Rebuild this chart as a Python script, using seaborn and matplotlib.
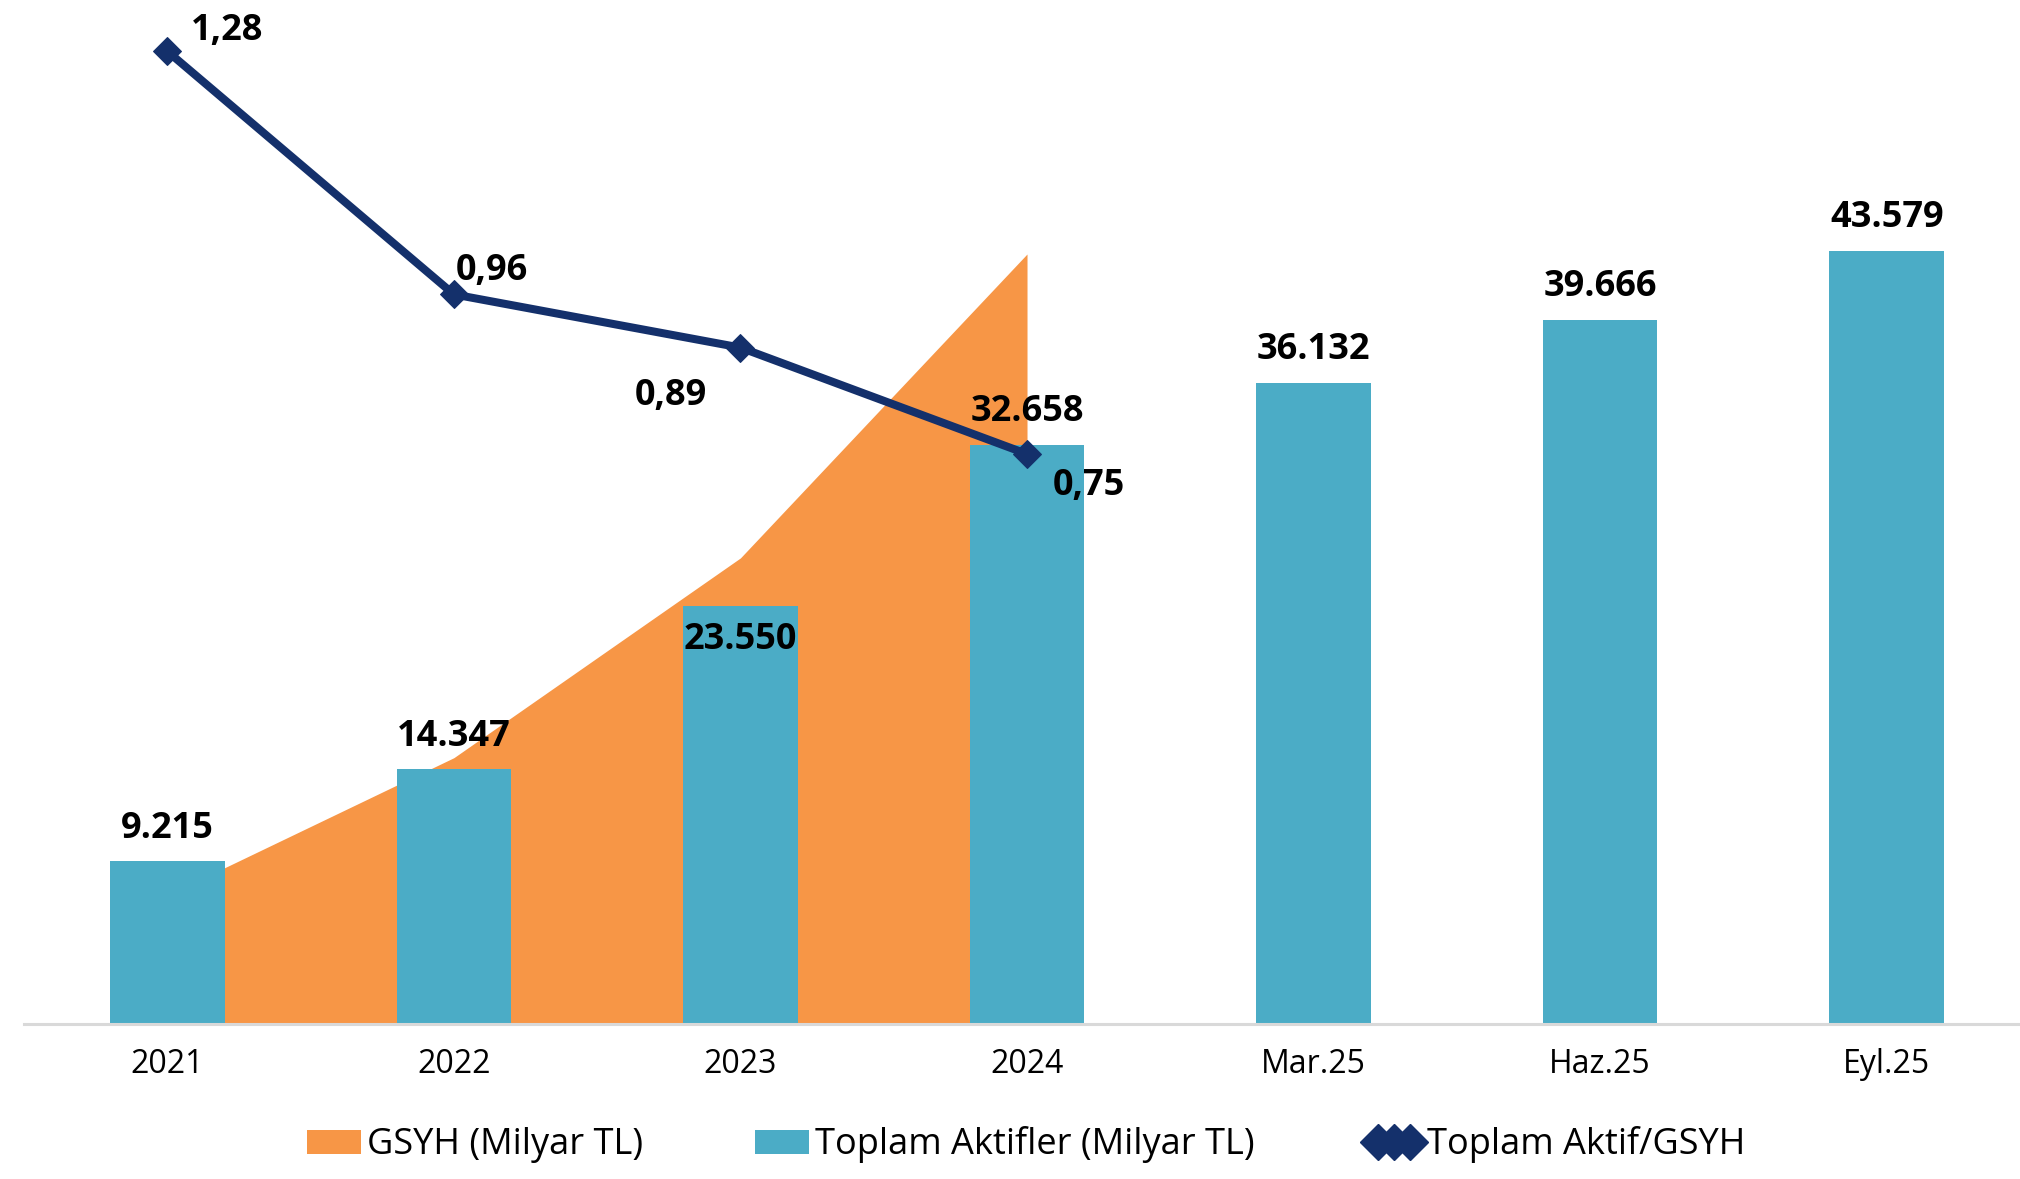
import matplotlib
matplotlib.use('Agg')
import matplotlib.pyplot as plt
import numpy as np
import pandas as pd
import seaborn as sns
from matplotlib.patches import Patch
from matplotlib.lines import Line2D

# Data
periods = ['2021', '2022', '2023', '2024', 'Mar.25', 'Haz.25', 'Eyl.25']
aktifler = [9215, 14347, 23550, 32658, 36132, 39666, 43579]
gsyh = [7256, 15012, 26276, 43410]
oran = [1.28, 0.96, 0.89, 0.75]

BAR = '#4BACC6'
AREA = '#F79646'
LINE = '#14306B'

sns.set_theme(style='white')
plt.rcParams['font.family'] = ['Open Sans', 'DejaVu Sans']

df = pd.DataFrame({'period': periods, 'aktif': aktifler})

fig = plt.figure(figsize=(20.2, 11.79), dpi=100)
ax = fig.add_axes([24 / 2020, 0.1315, 1 - 24 / 2020, 0.983 - 0.1315])

# GSYH area (behind bars)
xa = np.arange(len(gsyh))
ax.fill_between(xa, gsyh, color=AREA, lw=0, zorder=0.5)

# Toplam aktifler bars
sns.barplot(data=df, x='period', y='aktif', order=periods, color=BAR,
            saturation=1, width=0.4, linewidth=0, edgecolor='none',
            ax=ax, zorder=1)

ax.set_xlim(-0.5, 6.465)
ax.set_ylim(0, 56600)
ax.set_xlabel('')
ax.set_ylabel('')
ax.set_yticks([])
ax.tick_params(axis='x', length=0, pad=17, labelsize=23, labelcolor='black')
for s in ['top', 'left', 'right']:
    ax.spines[s].set_visible(False)
ax.spines['bottom'].set_color('#D9D9D9')
ax.spines['bottom'].set_linewidth(2.2)

# bar labels (offset in pixels from bar top)
bar_off = [32, 32, -34, 33, 33, 33, 33]
for i, v in enumerate(aktifler):
    ax.annotate(f'{v:,}'.replace(',', '.'), (i, v), xytext=(0, bar_off[i]),
                textcoords='offset pixels', ha='center', va='center',
                fontsize=26, fontweight='bold', color='black', zorder=5)

# ratio line on secondary axis
ax2 = ax.twinx()
line_df = pd.DataFrame({'x': np.arange(len(oran)), 'oran': oran})
sns.lineplot(data=line_df, x='x', y='oran', color=LINE, lw=5.8, marker='D',
             markersize=14, markeredgecolor=LINE, ax=ax2, zorder=3)
ax2.set_ylim(0, 1.321)
ax2.set_xlim(-0.5, 6.465)
ax2.set_yticks([])
ax2.set_ylabel('')
ax2.set_xlabel('')
for s in ['top', 'left', 'right', 'bottom']:
    ax2.spines[s].set_visible(False)

line_off = [(60, 20), (38, 23), (-70, -48), (62, -32)]
for i, v in enumerate(oran):
    ax2.annotate(f'{v:.2f}'.replace('.', ','), (i, v), xytext=line_off[i],
                 textcoords='offset pixels', ha='center', va='center',
                 fontsize=26, fontweight='bold', color='black', zorder=6)

handles = [
    Patch(facecolor=AREA, edgecolor='none', label='GSYH (Milyar TL)'),
    Patch(facecolor=BAR, edgecolor='none', label='Toplam Aktifler (Milyar TL)'),
    Line2D([0], [0], color=LINE, lw=5.8, marker='D', markersize=18,
           label='Toplam Aktif/GSYH'),
]
fig.legend(handles=handles, loc='center', bbox_to_anchor=(0.508, 0.029),
           ncol=3, frameon=False, fontsize=26, handlelength=1.5,
           handleheight=0.65, handletextpad=0.17, columnspacing=3.1,
           numpoints=3, labelcolor='black')

fig.savefig('out.png', dpi=100)
